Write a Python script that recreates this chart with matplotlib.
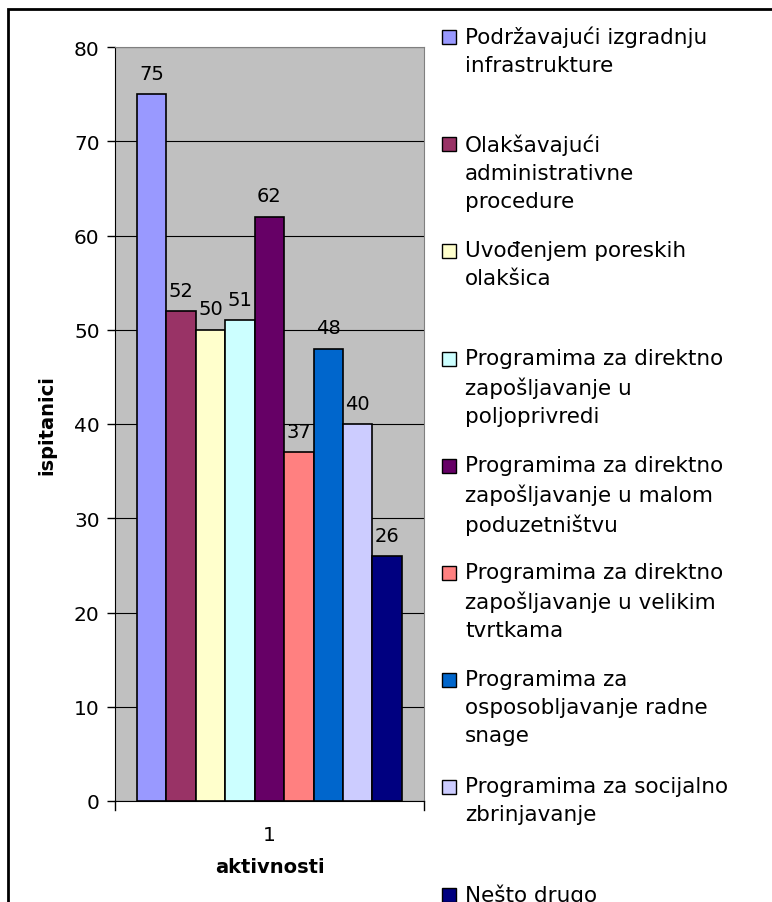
import numpy as np
import matplotlib.pyplot as plt
from matplotlib.patches import Rectangle

categories = [
    "Podržavajući izgradnju\ninfrastrukture",
    "Olakšavajući\nadministrativne\nprocedure",
    "Uvođenjem poreskih\nolakšica",
    "Programima za direktno\nzapošljavanje u\npoljoprivredi",
    "Programima za direktno\nzapošljavanje u malom\npoduzetništvu",
    "Programima za direktno\nzapošljavanje u velikim\ntvrtkama",
    "Programima za\nosposobljavanje radne\nsnage",
    "Programima za socijalno\nzbrinjavanje",
    "Nešto drugo",
]
values = [75, 52, 50, 51, 62, 37, 48, 40, 26]
colors = ["#9999FF", "#993366", "#FFFFCC", "#CCFFFF", "#660066",
          "#FF8080", "#0066CC", "#CCCCFF", "#000080"]
yticks = [0, 10, 20, 30, 40, 50, 60, 70, 80]

W, H = 772, 903
fig = plt.figure(figsize=(W / 100, H / 100), dpi=100)
plt.rcParams['font.family'] = ['DejaVu Sans']

# plot area in pixels
left, right, top, bottom = 115, 424, 48, 802
ax = fig.add_axes([left / W, 1 - bottom / H, (right - left) / W, (bottom - top) / H])
ax.set_facecolor("#C0C0C0")

n = len(values)
bw = 1.0
x = np.arange(n) * bw
ax.bar(x, values, width=bw, color=colors, edgecolor="black", linewidth=1.2,
       align="edge", zorder=3)
for xi, v in zip(x, values):
    ax.text(xi + bw / 2, v + 1.2, str(v), ha="center", va="bottom",
            fontsize=14, zorder=4)

margin = 0.75
ax.set_xlim(-margin, n * bw + margin)
ax.set_ylim(0, 80)
ax.set_yticks(yticks)
ax.tick_params(axis="y", labelsize=14.5, length=6, width=1, direction="out", pad=5)
ax.yaxis.grid(True, color="black", linewidth=0.8, zorder=1)
ax.set_axisbelow(True)
ax.set_xticks([n * bw / 2])
ax.set_xticklabels(["1"])
ax.tick_params(axis="x", labelsize=14.5, length=0, pad=17)
ax.set_xlabel("aktivnosti", fontsize=14, fontweight="bold")
ax.set_ylabel("ispitanici", fontsize=14, fontweight="bold")
ax.xaxis.set_label_coords(0.5, -(868 - bottom) / (bottom - top), transform=ax.transAxes)
ax.yaxis.set_label_coords(-(left - 47) / (right - left), 0.5, transform=ax.transAxes)
ax.xaxis.label.set_va("center")
ax.yaxis.label.set_va("center")

for s in ["top", "right"]:
    ax.spines[s].set_color("#808080")
ax.spines["left"].set_color("black")
ax.spines["bottom"].set_color("black")
# small x-axis end ticks
for xe in [-margin, n * bw + margin]:
    ax.plot([xe, xe], [0, -1.0], color="black", lw=1, clip_on=False)

# legend drawn manually
for i, (lab, c) in enumerate(zip(categories, colors)):
    ytop = 38 + i * 107.2
    fig.patches.append(Rectangle((442 / W, 1 - (ytop + 7) / H), 14 / W, 14 / H,
                                 transform=fig.transFigure, facecolor=c,
                                 edgecolor="black", linewidth=1))
    fig.text(465 / W, 1 - (ytop - 11) / H, lab, fontsize=15.5, va="top",
             ha="left", linespacing=1.5)

# outer chart border, clipped on right and bottom
fig.patches.append(Rectangle((8 / W, -0.05), 1.1, 1 - 10 / H + 0.05,
                             transform=fig.transFigure, fill=False,
                             edgecolor="black", linewidth=2))

fig.savefig("out.png", dpi=100)
